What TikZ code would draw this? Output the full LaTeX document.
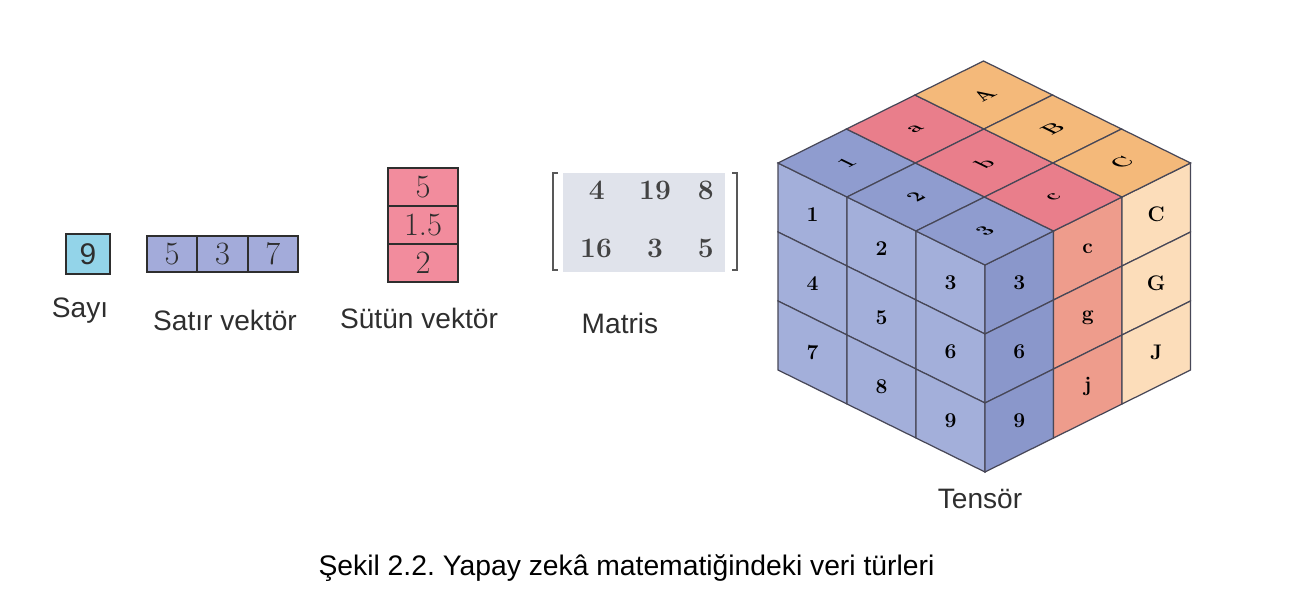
\documentclass[tikz,border=0pt]{standalone}
\usepackage{fontspec}
\newfontfamily\etiketfont{Liberation Sans}
\usepackage{tikz}
\usetikzlibrary{positioning}
\definecolor{sayicol}{HTML}{93D4E9}
\definecolor{satircol}{HTML}{A3ABDA}
\definecolor{sutuncol}{HTML}{F28C9D}
\definecolor{matriscol}{HTML}{E0E3EB}
\definecolor{solyuz}{HTML}{A3AFDA}
\definecolor{ustmavi}{HTML}{8F9CCF}
\definecolor{sagmavi}{HTML}{8A97CB}
\definecolor{ustkirmizi}{HTML}{E97E8B}
\definecolor{sagkirmizi}{HTML}{EE9C8C}
\definecolor{ustturuncu}{HTML}{F4B97A}
\definecolor{sagturuncu}{HTML}{FCDDBA}
\definecolor{kenar}{HTML}{474757}
\definecolor{yazi}{HTML}{2E2E2E}
\frenchspacing

\begin{document}
\begin{tikzpicture}[x=0.02cm, y=-0.02cm,
		hucre/.style={draw=yazi, line width=1.1pt, inner sep=0pt, outer sep=0pt, text=yazi},
		satirhucre/.style={hucre, fill=satircol, minimum width=1.007cm, minimum height=0.72cm, font=\fontsize{18.5}{18.5}\selectfont},
		sutunhucre/.style={hucre, fill=sutuncol, minimum width=1.4cm, minimum height=0.76cm, font=\fontsize{18.5}{18.5}\selectfont},
		matrisyazi/.style={inner sep=0pt, text=yazi!90, font=\bfseries\fontsize{16}{16}\selectfont},
		parantez/.style={draw=yazi!80, line width=1.4pt},
		etiket/.style={anchor=base, inner sep=0pt, text=yazi, font=\etiketfont\fontsize{16}{16}\selectfont},
		kup/.style={draw=kenar, line width=0.7pt},
		kupyazi/.style={inner sep=0pt, text=black, font=\bfseries\fontsize{12}{12}\selectfont}]
	\useasboundingbox (0,0) rectangle (1295,599);
	% Sayi, satir ve sutun vektoru:
	\node[hucre, fill=sayicol, minimum width=0.88cm, minimum height=0.8cm, font=\etiketfont\fontsize{17}{17}\selectfont](S1) at (88,254){9};
	\node[satirhucre](V1) at (172.2,254){5};
	\node[satirhucre, right=0pt of V1](V2){3};
	\node[satirhucre, right=0pt of V2](V3){7};
	\node[sutunhucre](K1) at (423,187){5};
	\node[sutunhucre, below=0pt of K1](K2){1.5};
	\node[sutunhucre, below=0pt of K2](K3){2};
	% Matris:
	\node[fill=matriscol, minimum width=3.234cm, minimum height=1.967cm, inner sep=0pt](M) at (644.2,222.5){};
	\node[matrisyazi](M11) at (596.7,190){4};
	\node[matrisyazi](M12) at (655,190){19};
	\node[matrisyazi](M13) at (705.7,190){8};
	\node[matrisyazi](M21) at (596,248.3){16};
	\node[matrisyazi](M22) at (655,248.3){3};
	\node[matrisyazi](M23) at (705.7,248.3){5};
	\draw[parantez] (558,173) -| (553,270) -- (558,270);
	\draw[parantez] (732,173) -| (737,270) -- (732,270);
	% Tensor: sol yuz
	\foreach \i in {0,1,2}{
		\foreach \j in {0,1,2}{
			\pgfmathtruncatemacro{\n}{3*\j+\i+1}
			\filldraw[kup, fill=solyuz] (778+69*\i, 163+34*\i+69*\j) -- ++(69,34) -- ++(0,69) -- ++(-69,-34) -- cycle;
			\node[kupyazi](L\n) at (812.5+69*\i, 214.5+34*\i+69*\j){\n};
		}
	}
	% sag yuz
	\foreach \k/\renk/\ya/\yb/\yc in {0/sagmavi/3/6/9, 1/sagkirmizi/c/g/j, 2/sagturuncu/C/G/J}{
		\foreach \j/\y in {0/\ya, 1/\yb, 2/\yc}{
			\filldraw[kup, fill=\renk] (985+68.5*\k, 265-34*\k+69*\j) -- ++(68.5,-34) -- ++(0,69) -- ++(-68.5,34) -- cycle;
			\node[kupyazi](R\k\j) at (1019.25+68.5*\k, 282.5-34*\k+69*\j){\y};
		}
	}
	% ust yuz
	\foreach \r/\renk/\ya/\yb/\yc in {0/ustmavi/1/2/3, 1/ustkirmizi/a/b/c, 2/ustturuncu/A/B/C}{
		\foreach \i/\y in {0/\ya, 1/\yb, 2/\yc}{
			\filldraw[kup, fill=\renk] (778+69*\i+68.5*\r, 163+34*\i-34*\r) -- ++(69,34) -- ++(68.5,-34) -- ++(-69,-34) -- cycle;
			\node[kupyazi, cm={0.9,0.44,-0.9,0.44,(0,0)}](T\r\i) at (846.75+69*\i+68.5*\r, 163+34*\i-34*\r){\y};
		}
	}
	% Etiketler:
	\node[etiket](E1) at (80,317){Sayı};
	\node[etiket](E2) at (225,330){Satır vektör};
	\node[etiket](E3) at (419,328.3){Sütün vektör};
	\node[etiket](E4) at (620,333){Matris};
	\node[etiket](E5) at (980,508){Tensör};
	\node[etiket, text=black, font=\etiketfont\fontsize{16.1}{16.1}\selectfont](C1) at (626.5,575){Şekil 2.2. Yapay zekâ matematiğindeki veri türleri};
\end{tikzpicture}
\end{document}
